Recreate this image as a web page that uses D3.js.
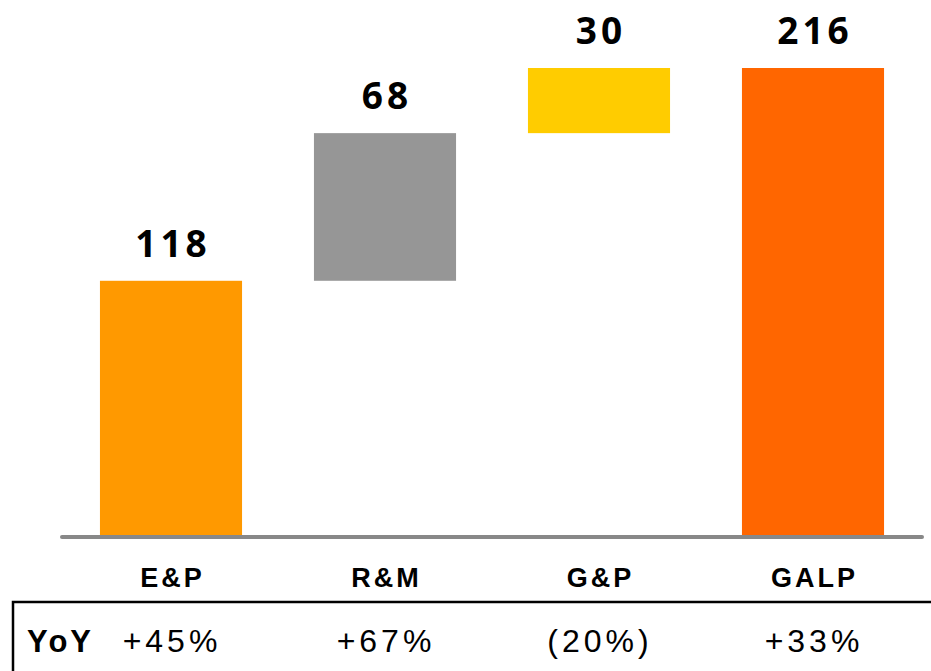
<!DOCTYPE html>
<html>
<head>
<meta charset="utf-8">
<script src="https://cdn.jsdelivr.net/npm/d3@7"></script>
<style>
  html, body { margin: 0; padding: 0; background: #ffffff; }
  svg { display: block; }
</style>
</head>
<body>
<script>
// ---- data ----
const categories = ["E&P", "R&M", "G&P", "GALP"];
const values = [118, 68, 30, 216];
const isTotal = [false, false, false, true];
const yoyLabels = ["+45%", "+67%", "(20%)", "+33%"];
const rowTitle = "YoY";
const colors = ["#FF9900", "#969696", "#FFCC00", "#FF6600"];

// waterfall start/end computed from values
let run = 0;
const bars = categories.map((c, i) => {
  let start, end;
  if (isTotal[i]) { start = 0; end = values[i]; }
  else { start = run; end = run + values[i]; run = end; }
  return { cat: c, value: values[i], start, end, color: colors[i], yoy: yoyLabels[i] };
});

const W = 931, H = 671;
const svg = d3.select("body").append("svg").attr("width", W).attr("height", H);

const x = d3.scaleBand().domain(categories).range([64, 920]).paddingInner(0.336).paddingOuter(0.168);
const y = d3.scaleLinear().domain([0, 216]).range([537, 68]);

// bars
svg.selectAll("rect.bar").data(bars).enter().append("rect")
  .attr("class", "bar")
  .attr("x", d => x(d.cat))
  .attr("width", x.bandwidth())
  .attr("y", d => y(d.end))
  .attr("height", d => y(d.start) - y(d.end))
  .attr("fill", d => d.color);

// baseline
svg.append("line")
  .attr("x1", 62).attr("x2", 922)
  .attr("y1", y(0)).attr("y2", y(0))
  .attr("stroke", "#888888").attr("stroke-width", 4).attr("stroke-linecap", "round");

// value labels
const ls = 4;
svg.selectAll("text.val").data(bars).enter().append("text")
  .attr("class", "val")
  .attr("x", d => x(d.cat) + x.bandwidth() / 2 + ls / 2)
  .attr("y", d => y(d.end) - 24)
  .attr("text-anchor", "middle")
  .attr("font-family", "'Open Sans', sans-serif")
  .attr("font-weight", "bold")
  .attr("font-size", 37)
  .attr("letter-spacing", ls)
  .attr("fill", "#000")
  .text(d => d.value);

// category labels
svg.selectAll("text.cat").data(bars).enter().append("text")
  .attr("class", "cat")
  .attr("x", d => x(d.cat) + x.bandwidth() / 2 + 1.5)
  .attr("y", 587)
  .attr("text-anchor", "middle")
  .attr("font-family", "'Liberation Sans', Arial, sans-serif")
  .attr("font-weight", "bold")
  .attr("font-size", 27)
  .attr("letter-spacing", 3)
  .attr("fill", "#000")
  .text(d => d.cat);

// table box
svg.append("path")
  .attr("d", `M 13 ${H + 10} L 13 602 L ${W + 10} 602`)
  .attr("fill", "none")
  .attr("stroke", "#000")
  .attr("stroke-width", 2.5);

svg.append("text")
  .attr("x", 27).attr("y", 652)
  .attr("font-family", "'Liberation Sans', Arial, sans-serif")
  .attr("font-weight", "bold")
  .attr("font-size", 31)
  .attr("letter-spacing", 3)
  .attr("fill", "#000")
  .text(rowTitle);

svg.selectAll("text.yoy").data(bars).enter().append("text")
  .attr("class", "yoy")
  .attr("x", d => x(d.cat) + x.bandwidth() / 2 + 1)
  .attr("y", 652)
  .attr("text-anchor", "middle")
  .attr("font-family", "'Liberation Sans', Arial, sans-serif")
  .attr("font-size", 32)
  .attr("letter-spacing", 4)
  .attr("fill", "#000")
  .text(d => d.yoy);
</script>
</body>
</html>
